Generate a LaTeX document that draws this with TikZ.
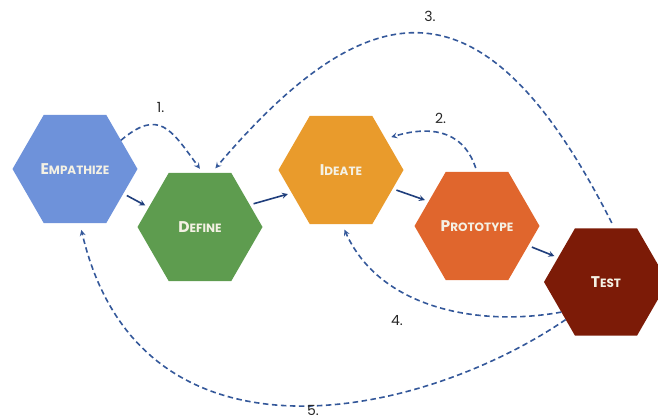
\documentclass[tikz,border=0pt]{standalone}
\usepackage{fontspec}
\newfontfamily\hexfont{Poppins}
\usepackage{tikz}
\usetikzlibrary{shapes.geometric}

\definecolor{empblue}{HTML}{6E92DA}
\definecolor{defgreen}{HTML}{5E9C4F}
\definecolor{ideorange}{HTML}{E99B2C}
\definecolor{proorange}{HTML}{E0662D}
\definecolor{tstred}{HTML}{7C1B07}
\definecolor{flowblue}{HTML}{1F3E7C}
\definecolor{loopblue}{HTML}{34589A}
\definecolor{hextext}{HTML}{F4F1E4}

\newcommand{\hexlabel}[2]{{\fontsize{15.5}{15.5}\selectfont #1}{\fontsize{12}{12}\selectfont #2}}

\begin{document}
\begin{tikzpicture}[x=1pt,y=1pt,
  hexagon/.style={regular polygon,regular polygon sides=6,minimum size=125pt,
    inner sep=0pt,outer sep=0pt,draw=none,fill=#1,text=hextext,
    font=\hexfont\bfseries},
  flow/.style={draw=flowblue,line width=1.6pt,-stealth,shorten <=4pt,shorten >=4pt},
  loop/.style={draw=loopblue,line width=1.6pt,dash pattern=on 5.5pt off 3.5pt,-stealth},
  nr/.style={font=\hexfont\fontsize{14}{14}\selectfont,text=black!85}]
\useasboundingbox (0,0) rectangle (658,419);

\node[hexagon=empblue] (emp) at (75,250) {\hexlabel{E}{MPATHIZE}};
\node[hexagon=defgreen] (def) at (200,192) {\hexlabel{D}{EFINE}};
\node[hexagon=ideorange] (ide) at (341,249) {\hexlabel{I}{DEATE}};
\node[hexagon=proorange] (pro) at (477,193) {\hexlabel{P}{ROTOTYPE}};
\node[hexagon=tstred,minimum size=124pt] (tst) at (606,137) {\hexlabel{T}{EST}};

\draw[flow] (emp.-27) -- (def.159);
\draw[flow] (def.24) -- (ide.-155);
\draw[flow] (ide.-20) -- (pro.153);
\draw[flow] (pro.-21) -- (tst.153);

% iterations back
\draw[loop,shorten >=5pt] (emp.32) .. controls +(38,32) and +(-32,44) .. (def.87)
  node[nr,pos=0.45,above=10pt] (n1) {1.};
\draw[loop,shorten <=4pt,shorten >=6pt] (pro.90) .. controls +(-15,45) and +(40,12) .. (ide.35)
  node[nr,pos=0.5,above=6pt] (n2) {2.};
\draw[loop,shorten <=6pt,shorten >=6pt] (tst.81) .. controls (490,437) and (377,441) .. (def.78);
\draw[loop,shorten >=6pt] (tst.214) .. controls (480,92) and (380,110) .. (ide.-89);
\draw[loop,shorten >=7pt] (tst.223) .. controls (420,0) and (140,-60) .. (emp.-85);

\node[nr] (n3) at (430,403) {3.};
\node[nr] (n4) at (397,98) {4.};
\node[nr] (n5) at (313,9) {5.};
\end{tikzpicture}
\end{document}
